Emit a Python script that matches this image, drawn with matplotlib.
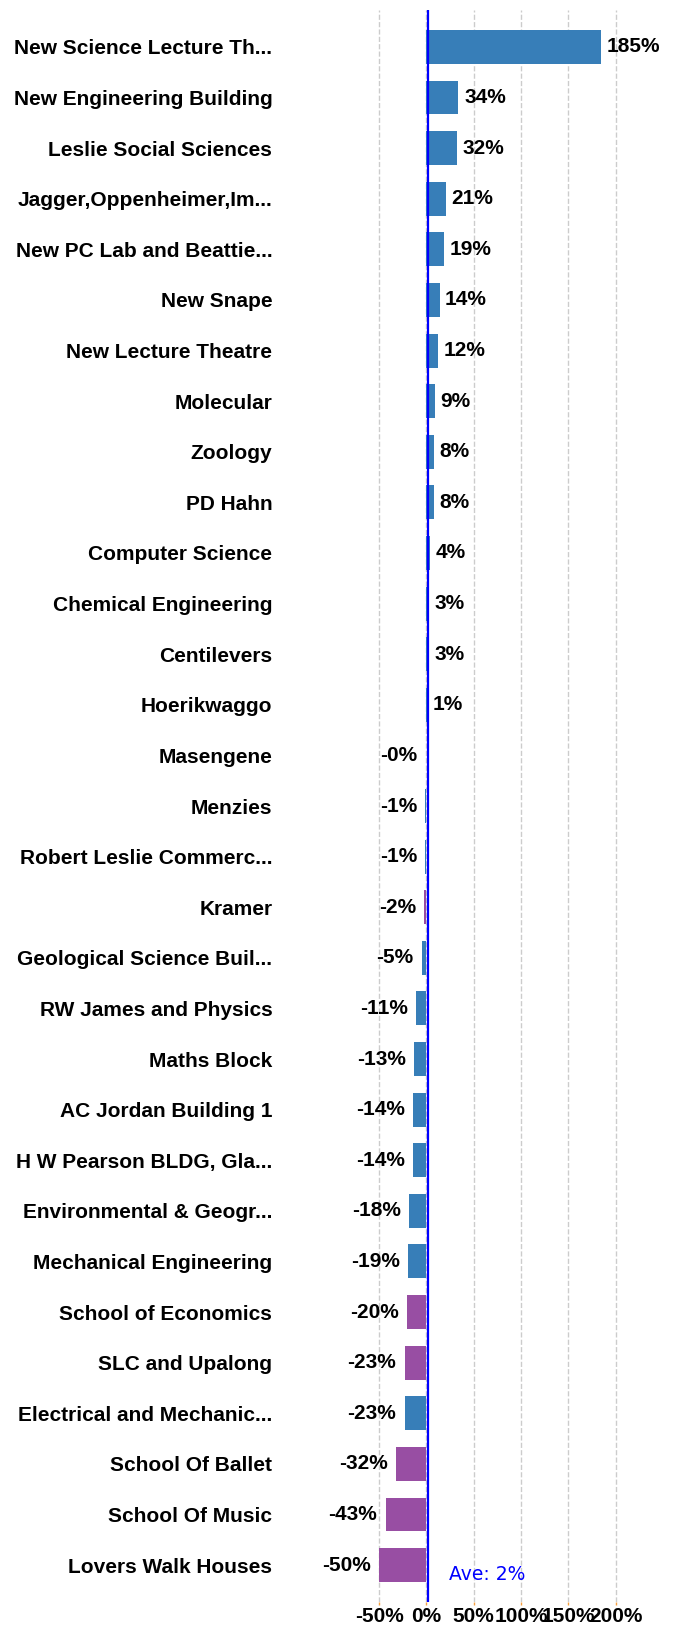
import matplotlib
matplotlib.use("Agg")
import matplotlib.pyplot as plt
import numpy as np

buildings = [
    "New Science Lecture Th...", "New Engineering Building", "Leslie Social Sciences",
    "Jagger,Oppenheimer,Im...", "New PC Lab and Beattie...", "New Snape",
    "New Lecture Theatre", "Molecular", "Zoology", "PD Hahn", "Computer Science",
    "Chemical Engineering", "Centilevers", "Hoerikwaggo", "Masengene", "Menzies",
    "Robert Leslie Commerc...", "Kramer", "Geological Science Buil...",
    "RW James and Physics", "Maths Block", "AC Jordan Building 1",
    "H W Pearson BLDG, Gla...", "Environmental & Geogr...", "Mechanical Engineering",
    "School of Economics", "SLC and Upalong", "Electrical and Mechanic...",
    "School Of Ballet", "School Of Music", "Lovers Walk Houses",
]
change_pct = [185, 34, 32, 21, 19, 14, 12, 9, 8, 8, 4, 3, 3, 1, -0.3, -1, -1, -2, -5,
              -11, -13, -14, -14, -18, -19, -20, -23, -23, -32, -43, -50]
group = ["a"] * 14 + ["b", "a", "a", "b", "a", "a", "a", "a", "a", "a", "a",
                      "b", "b", "a", "b", "b", "b"]
x_ticks = [-50, 0, 50, 100, 150, 200]
x_tick_labels = ["-50%", "0%", "50%", "100%", "150%", "200%"]

group_colors = {"a": "#377eb8", "b": "#984ea3"}
W, H = 676, 1628
fig = plt.figure(figsize=(W / 100, H / 100), dpi=100)
ax = fig.add_axes([374.3 / W, 26 / H, (629.7 - 374.3) / W, 1592 / H])

y = np.arange(len(buildings))
colors = [group_colors[g] for g in group]
ax.barh(y, change_pct, height=0.67, color=colors, zorder=2)

lab_font = dict(family=["Liberation Sans", "DejaVu Sans"], weight="bold", size=15)
for yi, v in zip(y, change_pct):
    if v >= 0:
        ax.annotate(f"{v:.0f}%", (v, yi), xytext=(4, 0), textcoords="offset points",
                    ha="left", va="center", color="black", **lab_font)
    else:
        ax.annotate(f"{v:.0f}%", (v, yi), xytext=(-6, 0), textcoords="offset points",
                    ha="right", va="center", color="black", **lab_font)

avg = float(np.mean(change_pct))
ax.axvline(avg, color="#0000ff", lw=1.6, zorder=3)
ax.annotate(f"Ave: {avg:.0f}%", (avg, len(buildings) - 1), xytext=(15, -7),
            textcoords="offset points", ha="left", va="center", color="#0000ff",
            family="DejaVu Sans", size=13.5)

ax.set_xlim(-55, 215)
ax.set_ylim(len(buildings) - 1 + 0.73, -0.73)
ax.set_xticks(x_ticks)
ax.set_xticklabels(x_tick_labels, **lab_font)
ax.set_yticks(y)
ax.set_yticklabels(buildings, **lab_font)
ax.tick_params(axis="y", length=0, pad=73.4)
ax.tick_params(axis="x", length=2.5, width=1, color="#f5a142", pad=1)
ax.grid(axis="x", color="#cccccc", linestyle="--", lw=1, zorder=0)
ax.set_axisbelow(True)
for s in ax.spines.values():
    s.set_visible(False)

fig.savefig("out.png", dpi=100)
